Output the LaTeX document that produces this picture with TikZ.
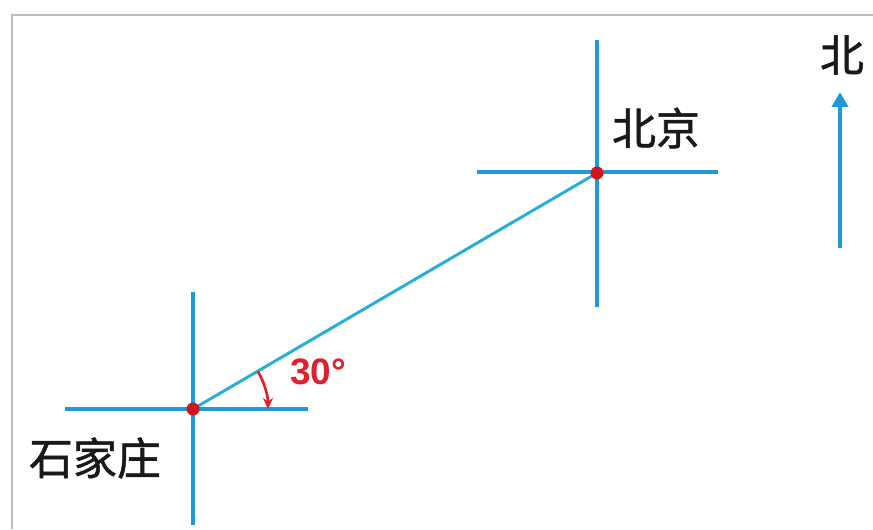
\documentclass[tikz,border=0pt]{standalone}
\usepackage{fontspec}
\setmainfont{Liberation Sans}
\newfontfamily\cjk[FakeBold=1.2]{Noto Sans CJK SC}
\usepackage{tikz}
\usetikzlibrary{arrows.meta, calc}
\usepackage{xcolor}
\definecolor{crossblue}{HTML}{1F9AD6}
\definecolor{linkblue}{HTML}{2BAED6}
\definecolor{dotred}{HTML}{D3161D}
\definecolor{anglered}{HTML}{E0202A}
\definecolor{framegray}{HTML}{BDBDBD}

\begin{document}
\begin{tikzpicture}[
    x=0.02cm, y=0.02cm,
    crossline/.style={draw=crossblue, line width=2.3pt},
    link/.style={draw=linkblue, line width=1.7pt},
    city/.style={circle, fill=dotred, inner sep=0pt, minimum size=0.26cm},
    place/.style={font=\cjk\fontsize{25}{25}\selectfont, text=black!90},
    angarc/.style={draw=anglered, line width=1.5pt, -{Stealth[length=2.2mm, width=2mm]}},
    northarrow/.style={draw=crossblue, line width=2.3pt, -{Triangle[length=3mm, width=3.2mm]}},
]
\useasboundingbox (0,0) rectangle (873,529);

% frame
\draw[framegray, line width=0.8pt] (12,0) -- (12,514) -- (873,514);

\coordinate (sjz) at (193,120);
\coordinate (bj) at (597,356);

% crosses
\draw[crossline] ($(sjz)+(-128,0)$) -- ($(sjz)+(115,0)$);
\draw[crossline] ($(sjz)+(0,117)$) -- ($(sjz)+(0,-116)$);
\draw[crossline] ($(bj)+(-120,1)$) -- ($(bj)+(121,1)$);
\draw[crossline] ($(bj)+(0,133)$) -- ($(bj)+(0,-134)$);

\draw[link] (sjz) -- (bj);
\draw[angarc] ($(sjz)+(30:1.5cm)$) arc (30:0:1.5cm);

\node[city] (sjzdot) at (sjz) {};
\node[city] (bjdot) at (bj) {};

\node[place] (sjzname) at (95,71) {石家庄};
\node[place] (bjname) at (656,401) {北京};
\node[font=\bfseries\fontsize{21}{21}\selectfont, text=anglered] (angle) at (318,157) {30°};

% north
\coordinate (nbase) at (840,281);
\coordinate (ntip) at (840,437);
\draw[northarrow] (nbase) -- (ntip);
\node[place] (north) at (842,474) {北};

\end{tikzpicture}
\end{document}
